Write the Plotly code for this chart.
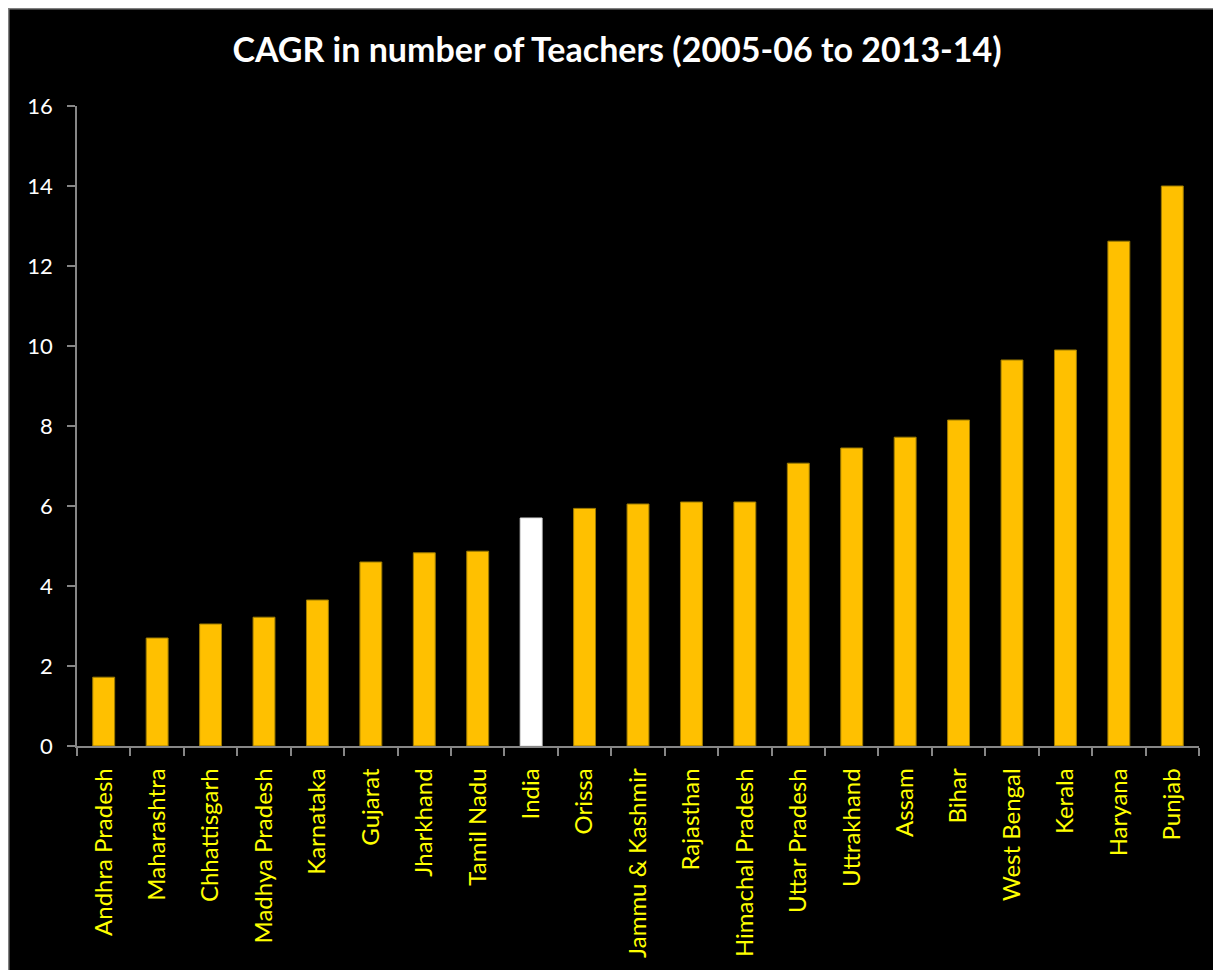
import plotly.graph_objects as go

states = ["Andhra Pradesh", "Maharashtra", "Chhattisgarh", "Madhya Pradesh", "Karnataka",
          "Gujarat", "Jharkhand", "Tamil Nadu", "India", "Orissa", "Jammu & Kashmir",
          "Rajasthan", "Himachal Pradesh", "Uttar Pradesh", "Uttrakhand", "Assam", "Bihar",
          "West Bengal", "Kerala", "Haryana", "Punjab"]
cagr = [1.72, 2.7, 3.05, 3.22, 3.65, 4.6, 4.83, 4.87, 5.7, 5.94, 6.05, 6.1, 6.1,
        7.07, 7.45, 7.72, 8.15, 9.65, 9.9, 12.62, 14.0]
y_ticks = [0, 2, 4, 6, 8, 10, 12, 14, 16]
highlight = "India"

fill = ["#FFFFFF" if s == highlight else "#FFC000" for s in states]
edge = ["#D9D9D9" if s == highlight else "#9C7A00" for s in states]

W, H = 1213, 962
L, R, T, B = 69, 22, 98, 224
pw, ph = W - L - R, H - T - B

def px_to_paper_x(px):
    return (px - L) / pw

def px_to_paper_y(py):
    return (H - B - py) / ph

fig = go.Figure(go.Bar(
    x=states, y=cagr,
    marker=dict(color=fill, line=dict(color=edge, width=1)),
))

# thin grey chart-area border along the figure's top/left edges
fig.add_shape(type="rect", xref="paper", yref="paper",
              x0=px_to_paper_x(0), x1=px_to_paper_x(W + 20),
              y0=px_to_paper_y(H + 20), y1=px_to_paper_y(0),
              fillcolor="rgba(0,0,0,0)", line=dict(color="#808080", width=3), layer="below")

fig.update_layout(
    width=W, height=H,
    margin=dict(l=L, r=R, t=T, b=B, autoexpand=False),
    paper_bgcolor="#000000", plot_bgcolor="#000000",
    bargap=0.59,
    showlegend=False,
    title=dict(text="<b>CAGR in number of Teachers (2005-06 to 2013-14)</b>",
               font=dict(family="Lato", size=34, color="#FFFFFF"),
               x=px_to_paper_x(609), xref="paper", xanchor="center",
               y=1 - 42 / H, yref="container", yanchor="middle"),
    xaxis=dict(
        type="category", tickson="boundaries", ticks="outside", ticklen=8,
        tickcolor="#868686", tickwidth=1.5, showline=True, linecolor="#868686", linewidth=1.5,
        showgrid=False, tickangle=-90,
        tickfont=dict(family="Lato", size=24, color="#FFFF00"),
        ticklabelstandoff=11,
    ),
    yaxis=dict(
        range=[0, 16], tickvals=y_ticks, ticks="outside", ticklen=8,
        tickcolor="#868686", tickwidth=1.5, showline=True, linecolor="#868686", linewidth=1.5,
        showgrid=False, zeroline=False,
        tickfont=dict(family="Lato", size=22, color="#FFFFFF"),
        ticklabelstandoff=10,
    ),
)

fig.write_html(
    "out.html",
    post_script="document.documentElement.style.overflow='hidden';"
                "document.body.style.overflow='hidden';",
)
